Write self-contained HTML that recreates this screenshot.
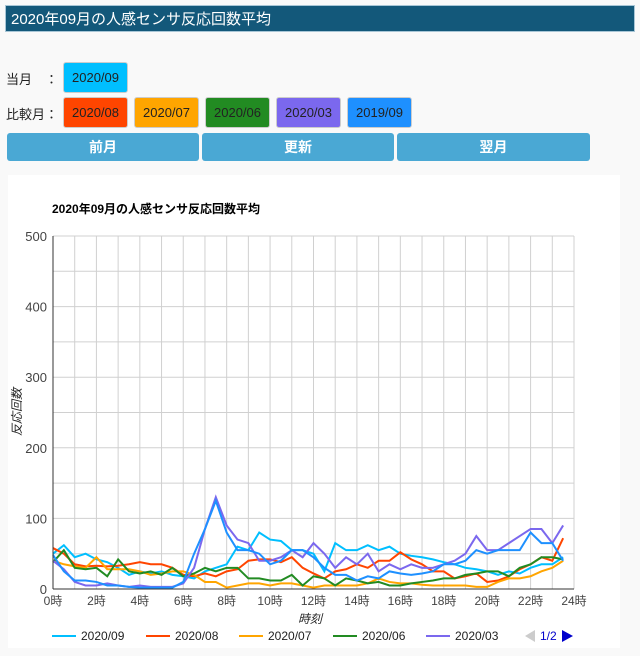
<!DOCTYPE html>
<html><head><meta charset="utf-8">
<style>
body{margin:0;width:640px;height:656px;background:#f9f9f9;font-family:"Liberation Sans","Noto Sans CJK JP",sans-serif;position:relative;overflow:hidden}
.title{position:absolute;left:5px;top:5px;width:630px;height:27px;background:#13587a;color:#fff;font-size:15px;line-height:27px;padding-left:5px;box-sizing:border-box;border:1px solid #a8c6d6}
.lbl{position:absolute;font-size:13px;color:#222}
.mb{position:absolute;height:31px;width:65px;border-radius:3px;border:1px solid #ccc;box-sizing:border-box;font-size:13px;line-height:29px;text-align:center;color:#222}
.nav{position:absolute;top:133px;height:28px;background:#4aa8d4;color:#fff;font-weight:bold;font-size:14px;line-height:28px;text-align:center;border-radius:3px}
.card{position:absolute;left:8px;top:175px;width:612px;height:473px;background:#fff}
</style></head><body>
<div class="title">2020年09月の人感センサ反応回数平均</div>
<div class="lbl" style="left:6px;top:69px">当月　：</div>
<div class="mb" style="left:63px;top:62px;background:#00bfff">2020/09</div>
<div class="lbl" style="left:6px;top:104px">比較月：</div>
<div class="mb" style="left:63px;top:97px;background:#ff4500">2020/08</div>
<div class="mb" style="left:134px;top:97px;background:#ffa500">2020/07</div>
<div class="mb" style="left:205px;top:97px;background:#228b22">2020/06</div>
<div class="mb" style="left:276px;top:97px;background:#7b68ee">2020/03</div>
<div class="mb" style="left:347px;top:97px;background:#1e90ff">2019/09</div>
<div class="nav" style="left:7px;width:192px">前月</div>
<div class="nav" style="left:202px;width:192px">更新</div>
<div class="nav" style="left:397px;width:193px">翌月</div>
<div class="card"></div>
<svg id="chart" width="640" height="656" style="position:absolute;left:0;top:0"></svg>
<script>
const hours=[0,2,4,6,8,10,12,14,16,18,20,22,24];
const yTicks=[0,100,200,300,400,500];
const s0909=[50,62,45,50,42,38,30,20,25,22,25,20,18,15,25,30,35,60,55,80,70,68,55,55,50,25,65,55,55,62,55,60,50,47,45,42,38,35,30,28,25,20,25,22,30,35,35,45];
const s0808=[58,50,35,32,33,32,33,35,38,35,35,30,20,18,22,18,25,28,40,42,42,38,45,30,22,15,25,28,35,30,40,40,52,42,35,25,25,15,18,22,10,12,18,28,35,45,40,72];
const s0707=[40,35,32,30,45,28,28,28,25,20,22,25,25,20,10,10,2,5,8,8,5,8,8,5,2,5,5,5,5,8,15,10,8,8,6,5,5,5,5,3,3,10,15,15,18,25,30,40];
const s0606=[38,55,30,28,30,18,42,25,22,25,20,30,18,22,30,25,30,30,15,15,12,12,20,5,18,15,5,15,12,8,10,5,5,8,10,12,15,15,20,22,25,25,18,30,35,45,45,42];
const s0303=[40,28,10,5,5,8,5,3,5,3,3,3,8,30,85,130,90,70,65,40,40,45,55,45,65,50,30,45,35,50,25,35,28,35,30,30,35,40,50,75,55,55,65,75,85,85,65,90];
const s1909=[48,25,12,12,10,5,5,3,2,2,2,2,10,50,85,125,80,55,55,50,35,40,55,55,45,30,20,20,12,18,15,25,22,20,22,25,35,35,40,55,50,55,55,55,80,65,65,40];
const series=[["2020/09","#00bfff",s0909],["2020/08","#ff4500",s0808],["2020/07","#ffa500",s0707],["2020/06","#228b22",s0606],["2020/03","#7b68ee",s0303],["2019/09","#1e90ff",s1909]];
const X0=53,X1=574,Y0=589,Y1=236;
const xs=h=>X0+(X1-X0)*h/24, ys=v=>Y0-(Y0-Y1)*v/500;
const svg=document.getElementById('chart'),NS="http://www.w3.org/2000/svg";
function mk(t,a,p){const e=document.createElementNS(NS,t);for(const k in a)e.setAttribute(k,a[k]);(p||svg).appendChild(e);return e;}
let t=mk('text',{x:52,y:213,'font-size':12,'font-weight':'bold',fill:'#000'});t.textContent="2020年09月の人感センサ反応回数平均";


for(let h=0;h<=24;h++){const l=mk('line',{x1:xs(h),x2:xs(h),y1:Y1,y2:Y0,stroke:'#d0d0d0'});

}
for(let v=50;v<=500;v+=50){const l=mk('line',{x1:X0,x2:X1,y1:ys(v),y2:ys(v),stroke:'#d0d0d0'});

}
yTicks.forEach(v=>{const e=mk('text',{x:47,y:ys(v)+5,'text-anchor':'end','font-size':13,fill:'#444'});e.textContent=v;

});
hours.forEach(h=>{const e=mk('text',{x:xs(h),y:605,'text-anchor':'middle','font-size':12,fill:'#444'});e.textContent=h+"時";

});
series.forEach(([n,c,d])=>{const p=mk('polyline',{points:d.map((v,i)=>xs(i*0.5)+","+ys(v)).join(" "),fill:'none',stroke:c,'stroke-width':2});

});
let a=mk('line',{x1:X0,x2:X0,y1:Y1,y2:Y0,stroke:'#333'});


a=mk('line',{x1:X0,x2:X1,y1:Y0,y2:Y0,stroke:'#333'});


t=mk('text',{x:310,y:623,'text-anchor':'middle','font-size':12,'font-style':'italic',fill:'#222'});t.textContent="時刻";


t=mk('text',{x:21,y:412,'text-anchor':'middle','font-size':12,'font-style':'italic',fill:'#222',transform:'rotate(-90 21 412)'});t.textContent="反応回数";


const lx=[52,146,239,333,426];
series.slice(0,5).forEach(([n,c],i)=>{const g=mk('g',{});


mk('line',{x1:lx[i],x2:lx[i]+24,y1:636,y2:636,stroke:c,'stroke-width':2},g);
const e=mk('text',{x:lx[i]+29,y:640,'font-size':12,fill:'#222'},g);e.textContent=n;});
let pg=mk('polygon',{points:"535,630 535,642 525,636",fill:'#ccc'});


t=mk('text',{x:540,y:640,'font-size':12,fill:'#0000cc'});t.textContent="1/2";


pg=mk('polygon',{points:"562,630 562,642 573,636",fill:'#0000cc'});


</script>
</body></html>
